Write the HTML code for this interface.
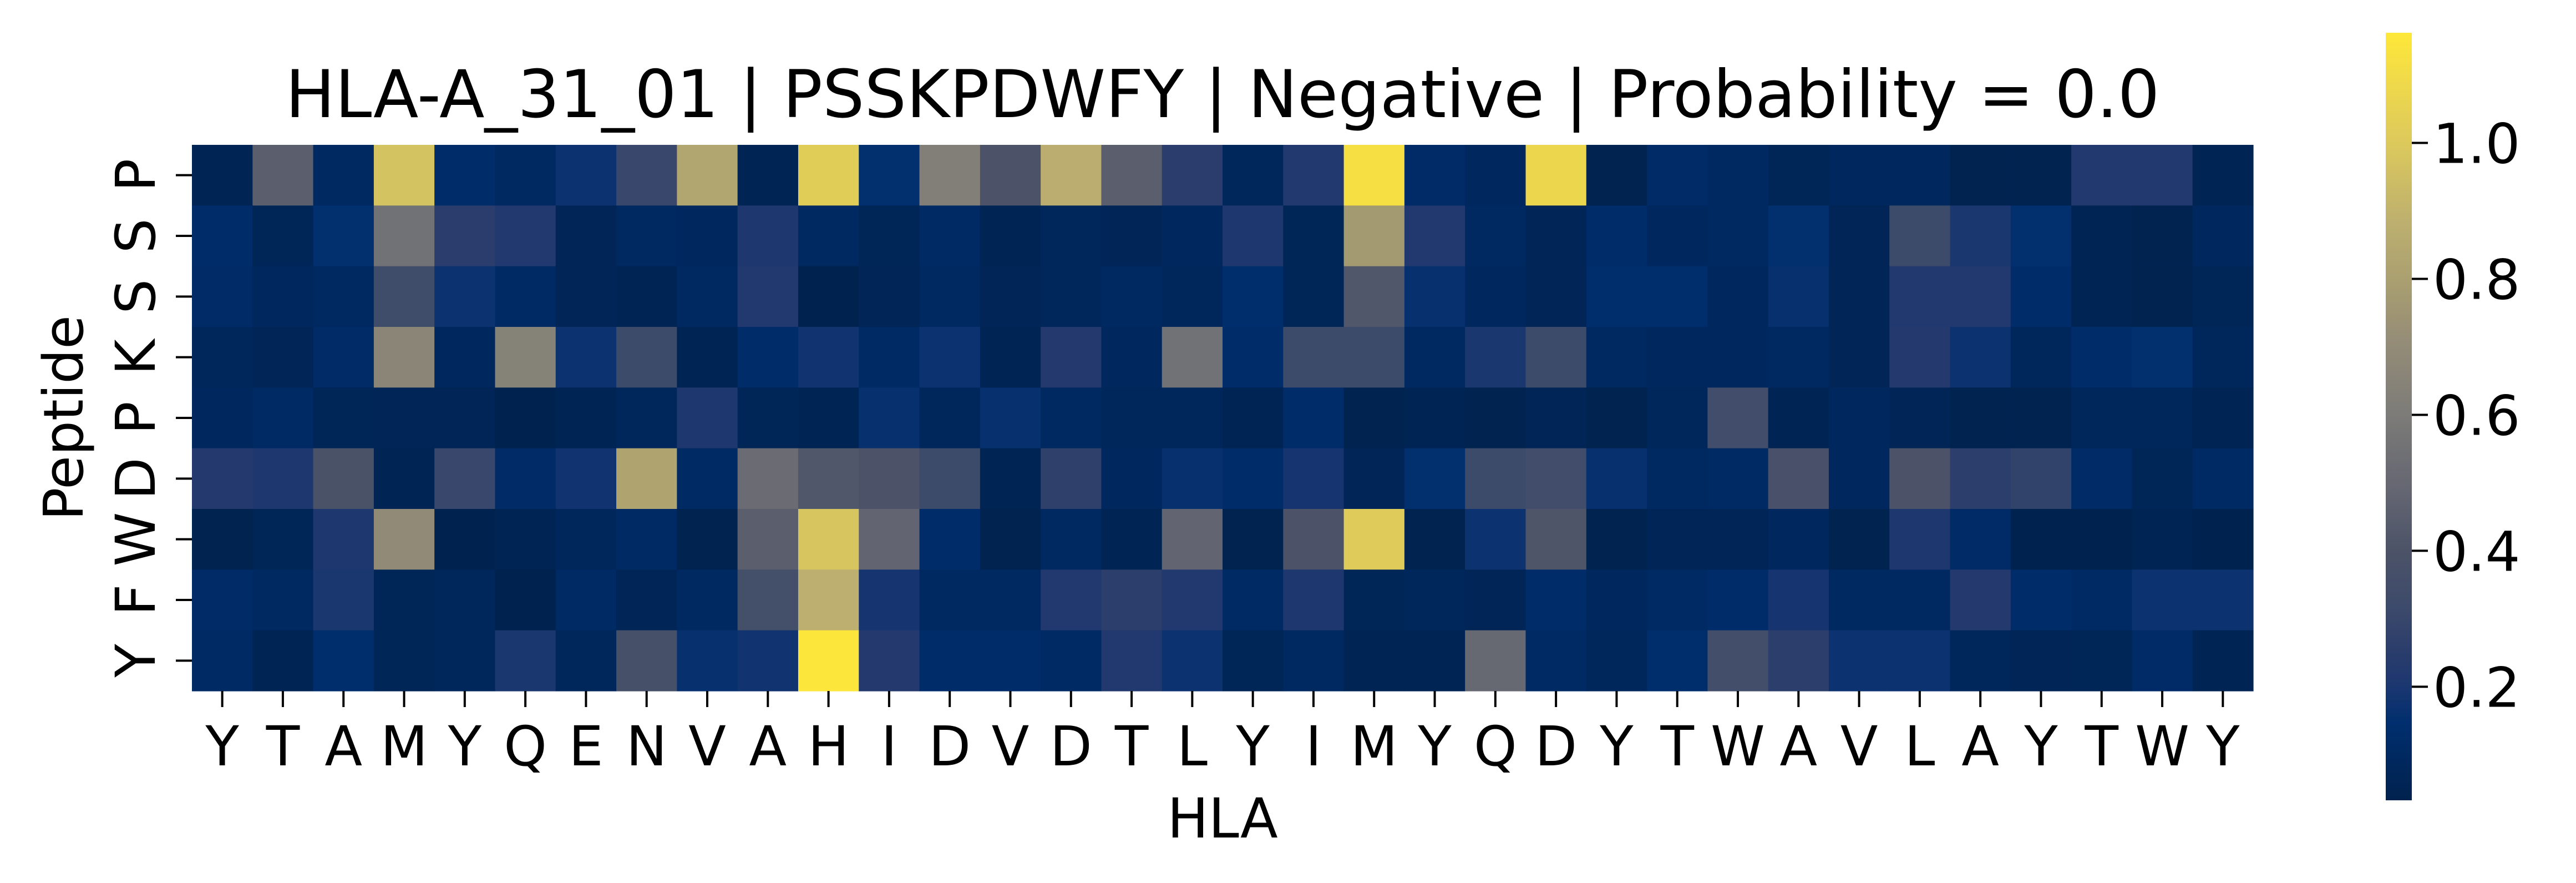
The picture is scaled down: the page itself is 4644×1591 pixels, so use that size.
<!DOCTYPE html>
<html><head><meta charset="utf-8"><style>
html,body{margin:0;padding:0;background:#fff;}
svg{display:block;font-family:"DejaVu Sans","Liberation Sans",sans-serif;}
</style></head><body>
<svg id="chart" width="4644" height="1591" viewBox="0 0 4644 1591" xmlns="http://www.w3.org/2000/svg">
<defs>
<linearGradient id="cbg" x1="0" y1="1" x2="0" y2="0"></linearGradient>
</defs>
<text x="2204" y="211" font-size="119" text-anchor="middle">HLA-A_31_01 | PSSKPDWFY | Negative | Probability = 0.0</text>
<g id="cells"></g>
<g id="xticks"></g>
<g id="yticks"></g>
<text x="2204" y="1509" font-size="99" text-anchor="middle">HLA</text>
<text transform="translate(149,753) rotate(-90)" font-size="99" text-anchor="middle">Peptide</text>
<rect id="cbar" x="4301" y="59" width="47" height="1383" fill="url(#cbg)"/>
<g id="cbticks"></g>
</svg>
<script>
const xLabels = ["Y","T","A","M","Y","Q","E","N","V","A","H","I","D","V","D","T","L","Y","I","M","Y","Q","D","Y","T","W","A","V","L","A","Y","T","W","Y"];
const yLabels = ["P","S","S","K","P","D","W","F","Y"];
const row0 = [0.05,0.45,0.10,0.97,0.13,0.10,0.17,0.30,0.83,0.05,1.02,0.15,0.62,0.40,0.87,0.45,0.25,0.08,0.22,1.12,0.12,0.09,1.07,0.04,0.12,0.10,0.07,0.09,0.09,0.04,0.04,0.22,0.22,0.05];
const row1 = [0.13,0.07,0.15,0.55,0.25,0.22,0.06,0.10,0.09,0.21,0.10,0.07,0.11,0.05,0.08,0.06,0.09,0.21,0.07,0.77,0.22,0.10,0.06,0.13,0.09,0.10,0.15,0.06,0.32,0.20,0.15,0.05,0.04,0.09];
const row2 = [0.12,0.09,0.10,0.33,0.17,0.11,0.06,0.05,0.10,0.22,0.03,0.06,0.10,0.06,0.08,0.10,0.08,0.14,0.07,0.42,0.16,0.09,0.06,0.14,0.14,0.09,0.16,0.06,0.22,0.22,0.13,0.05,0.04,0.07];
const row3 = [0.08,0.06,0.12,0.66,0.09,0.64,0.17,0.32,0.05,0.13,0.18,0.11,0.17,0.05,0.23,0.09,0.55,0.13,0.32,0.32,0.10,0.20,0.32,0.10,0.09,0.09,0.10,0.06,0.23,0.17,0.08,0.13,0.15,0.08];
const row4 = [0.09,0.11,0.07,0.06,0.06,0.03,0.05,0.08,0.21,0.07,0.05,0.16,0.08,0.16,0.10,0.08,0.08,0.05,0.13,0.04,0.05,0.04,0.06,0.04,0.08,0.34,0.05,0.09,0.06,0.04,0.04,0.08,0.08,0.05];
const row5 = [0.23,0.21,0.39,0.05,0.30,0.12,0.18,0.82,0.11,0.52,0.42,0.40,0.32,0.05,0.27,0.09,0.16,0.13,0.19,0.06,0.15,0.32,0.34,0.16,0.10,0.11,0.38,0.09,0.40,0.26,0.28,0.12,0.07,0.11];
const row6 = [0.04,0.07,0.21,0.69,0.03,0.05,0.08,0.11,0.04,0.45,0.98,0.48,0.13,0.04,0.10,0.05,0.48,0.04,0.40,1.01,0.04,0.17,0.41,0.04,0.06,0.06,0.09,0.04,0.21,0.12,0.03,0.03,0.05,0.03];
const row7 = [0.12,0.10,0.20,0.07,0.08,0.03,0.11,0.06,0.10,0.36,0.88,0.19,0.10,0.10,0.22,0.26,0.22,0.11,0.21,0.07,0.08,0.06,0.13,0.09,0.11,0.13,0.19,0.10,0.10,0.23,0.13,0.11,0.17,0.17];
const row8 = [0.11,0.05,0.14,0.07,0.08,0.20,0.08,0.37,0.16,0.18,1.15,0.23,0.13,0.13,0.11,0.22,0.17,0.07,0.10,0.05,0.05,0.50,0.11,0.08,0.14,0.35,0.26,0.17,0.17,0.08,0.06,0.07,0.12,0.05];
const cbTickValues = [0.2,0.4,0.6,0.8,1.0];
const cbTickLabels = ["0.2","0.4","0.6","0.8","1.0"];
const vmin = 0.033, vmax = 1.162;

const rows = [row0,row1,row2,row3,row4,row5,row6,row7,row8];
const NS = "http://www.w3.org/2000/svg";
const X0 = 346, X1 = 4062, Y0 = 261, Y1 = 1245;
const cw = (X1 - X0) / xLabels.length, ch = (Y1 - Y0) / yLabels.length;
function xPos(i){ return X0 + i * cw; }
function yPos(j){ return Y0 + j * ch; }
const CB_TOP = 59, CB_BOT = 1442;
function cbY(v){ return CB_BOT - (v - vmin) / (vmax - vmin) * (CB_BOT - CB_TOP); }

const stops = [[0,"#00224e"],[0.05,"#00285e"],[0.1,"#002e6e"],[0.15,"#1c3770"],[0.2,"#2c3e6b"],[0.25,"#3c4a6b"],[0.325,"#4c5368"],[0.4,"#636571"],[0.5,"#7c7b78"],[0.6,"#958d77"],[0.68,"#aba070"],[0.75,"#bcaf6f"],[0.856,"#dcc95c"],[0.93,"#eed84c"],[1,"#fee838"]];
function hex2rgb(h){ return [parseInt(h.slice(1,3),16),parseInt(h.slice(3,5),16),parseInt(h.slice(5,7),16)]; }
function cmap(v){
  let t = (v - vmin) / (vmax - vmin); t = Math.max(0, Math.min(1, t));
  for (let k = 1; k < stops.length; k++) {
    if (t <= stops[k][0]) {
      const a = stops[k-1], b = stops[k], f = (t - a[0]) / (b[0] - a[0]);
      const ca = hex2rgb(a[1]), cb = hex2rgb(b[1]);
      return "rgb(" + ca.map((c,i)=>Math.round(c + (cb[i]-c)*f)).join(",") + ")";
    }
  }
  return stops[stops.length-1][1];
}
const grad = document.getElementById("cbg");
stops.forEach(s => { const st = document.createElementNS(NS,"stop"); st.setAttribute("offset", s[0]); st.setAttribute("stop-color", s[1]); grad.appendChild(st); });

const cells = document.getElementById("cells");
rows.forEach((r, j) => r.forEach((v, i) => {
  const rc = document.createElementNS(NS,"rect");
  
  
  rc.setAttribute("x", xPos(i)); rc.setAttribute("y", yPos(j));
  rc.setAttribute("width", cw + 0.6); rc.setAttribute("height", ch + 0.6);
  rc.setAttribute("fill", cmap(v));
  cells.appendChild(rc);
}));

const xt = document.getElementById("xticks");
xLabels.forEach((l, i) => {
  const cx = xPos(i) + cw/2;
  const ln = document.createElementNS(NS,"line");
  
  
  ln.setAttribute("x1", cx); ln.setAttribute("x2", cx); ln.setAttribute("y1", Y1); ln.setAttribute("y2", Y1 + 29);
  ln.setAttribute("stroke", "#000"); ln.setAttribute("stroke-width", 4);
  xt.appendChild(ln);
  const tx = document.createElementNS(NS,"text");
  
  
  tx.setAttribute("x", cx); tx.setAttribute("y", 1379);
  tx.setAttribute("font-size", 99); tx.setAttribute("text-anchor", "middle");
  tx.textContent = l; xt.appendChild(tx);
});
const yt = document.getElementById("yticks");
yLabels.forEach((l, j) => {
  const cy = yPos(j) + ch/2;
  const ln = document.createElementNS(NS,"line");
  
  
  ln.setAttribute("x1", X0 - 29); ln.setAttribute("x2", X0); ln.setAttribute("y1", cy); ln.setAttribute("y2", cy);
  ln.setAttribute("stroke", "#000"); ln.setAttribute("stroke-width", 4);
  yt.appendChild(ln);
  const tx = document.createElementNS(NS,"text");
  
  
  tx.setAttribute("transform", "translate(279," + cy + ") rotate(-90)");
  tx.setAttribute("font-size", 99); tx.setAttribute("text-anchor", "middle");
  tx.textContent = l; yt.appendChild(tx);
});
const cbt = document.getElementById("cbticks");
cbTickValues.forEach((v, k) => {
  const y = cbY(v);
  const ln = document.createElementNS(NS,"line");
  
  
  ln.setAttribute("x1", 4348); ln.setAttribute("x2", 4377); ln.setAttribute("y1", y); ln.setAttribute("y2", y);
  ln.setAttribute("stroke", "#000"); ln.setAttribute("stroke-width", 4);
  cbt.appendChild(ln);
  const tx = document.createElementNS(NS,"text");
  
  
  tx.setAttribute("x", 4386); tx.setAttribute("y", y + 36);
  tx.setAttribute("font-size", 99);
  tx.textContent = cbTickLabels[k]; cbt.appendChild(tx);
});
</script>
</body></html>
